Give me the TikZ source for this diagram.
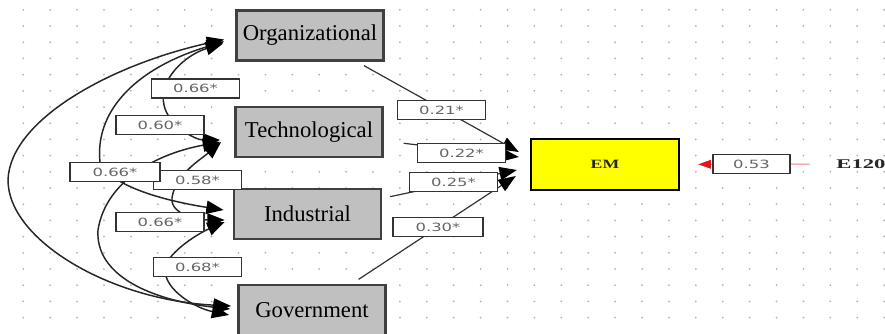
\documentclass[tikz,border=0pt]{standalone}
\usepackage{fontspec}
\setmainfont{Liberation Serif}
\newfontfamily\coeffont[FakeStretch=1.45]{DejaVu Sans}
\newfontfamily\emfont[FakeStretch=1.4]{Liberation Serif}
\newfontfamily\errfont[FakeStretch=1.7]{Liberation Serif}
\usepackage{tikz}
\usetikzlibrary{positioning, arrows.meta, calc}
\definecolor{boxgray}{HTML}{C0C0C0}
\definecolor{emyellow}{HTML}{FFFF00}
\definecolor{errred}{HTML}{E01818}

\begin{document}
\begin{tikzpicture}[x=0.75pt, y=-0.75pt,
 var_node/.style={draw=black!75, line width=1.8pt, fill=boxgray, minimum width=110.5pt, minimum height=37.5pt, inner sep=0pt, font=\fontsize{17pt}{20pt}\selectfont},
 em_node/.style={draw=black, line width=1.8pt, fill=emyellow, minimum width=111pt, minimum height=38.25pt, inner sep=0pt, text=black!85, font=\emfont\bfseries\fontsize{9.5pt}{11pt}\selectfont},
 coef_node/.style={draw=black!80, line width=1.2pt, fill=white, minimum width=66pt, minimum height=14.25pt, inner sep=0pt, text=black!60, font=\coeffont\fontsize{8.5pt}{10pt}\selectfont},
 cov_arc/.style={draw=black!85, line width=1.1pt, {Triangle[length=13pt,width=10pt,color=black]}-{Triangle[length=13pt,width=10pt,color=black]}},
 path_line/.style={draw=black!80, line width=0.9pt, -{Triangle[length=13pt,width=10pt,color=black]}, shorten <=6pt},
 err_line/.style={draw=errred!55, line width=0.8pt, -{Triangle[length=9.5pt,width=6.5pt,color=errred]}},
 grid_dot/.style={fill=gray!60}]

\fill[white] (0,0) rectangle (885,333);
\useasboundingbox (0,0) rectangle (885,333);

\foreach \i in {0,...,32}
 \foreach \j in {0,...,19}
  \fill[grid_dot] (23.3+26.9*\i, 9.8+16.2*\j) circle (0.75pt);

\node[var_node] (org) at (310,35.5) {Organizational};
\node[var_node] (tech) at (309,132) {Technological};
\node[var_node] (ind) at (307.5,214) {Industrial};
\node[var_node] (gov) at (312,310) {Government};
\node[em_node] (em) at (605,164.5) {EM};
\node[font=\errfont\bfseries\fontsize{10pt}{12pt}\selectfont, text=black!85, inner sep=0pt] (err) at (861,164) {E120};

\path[cov_arc] ($(org.west)+(-11,4)$) .. controls (110,65) and (10,120) .. (8,180) .. controls (8,240) and (110,300) .. ($(gov.west)+(-6,-4)$);
\path[cov_arc] ($(org.west)+(-11,6)$) .. controls (130,70) and (95,115) .. (100,162) .. controls (110,185) and (160,200) .. ($(ind.west)+(-9,-4)$);
\path[cov_arc] ($(org.west)+(-12,8)$) .. controls (185,55) and (158,80) .. (164,105) .. controls (168,125) and (195,140) .. ($(tech.west)+(-14,8)$);
\path[cov_arc] ($(tech.west)+(-14,10)$) .. controls (150,155) and (105,185) .. (98,230) .. controls (95,275) and (150,300) .. ($(gov.west)+(-7,-1)$);
\path[cov_arc] ($(tech.west)+(-13,10)$) .. controls (200,160) and (175,175) .. (172,198) .. controls (170,215) and (200,220) .. ($(ind.west)+(-8,6)$);
\path[cov_arc] ($(ind.west)+(-8,8)$) .. controls (195,235) and (165,255) .. (165,270) .. controls (165,290) and (195,308) .. ($(gov.west)+(-8,5)$);

\foreach \v/\dx/\dy in {org/-11/-12.5, ind/-13/5.5, gov/-14/11.5}
 \path[path_line] (\v) -- ($(em.west)+(\dx,\dy)$);
\path[path_line, shorten <=15pt] (tech) -- ($(em.west)+(-11,-7.5)$);
\path[err_line, shorten <=20pt, shorten >=13.5pt] (err) -- (em);

\node[coef_node] (k_ot) at (195.5,88.5) {0.66*};
\node[coef_node] (k_oi) at (160,125) {0.60*};
\node[coef_node] (k_ti) at (197.5,180) {0.58*};
\node[coef_node, minimum width=67.5pt] (k_og) at (115,172) {0.66*};
\node[coef_node] (k_tg) at (160,222) {0.66*};
\node[coef_node] (k_ig) at (197.5,267) {0.68*};
\node[coef_node] (k_o) at (441.5,110) {0.21*};
\node[coef_node] (k_t) at (461.5,153) {0.22*};
\node[coef_node] (k_i) at (453.5,182) {0.25*};
\node[coef_node, minimum width=67.5pt] (k_g) at (438,227) {0.30*};
\node[coef_node, minimum width=57.75pt] (k_e) at (751.5,164) {0.53};

\end{tikzpicture}
\end{document}
